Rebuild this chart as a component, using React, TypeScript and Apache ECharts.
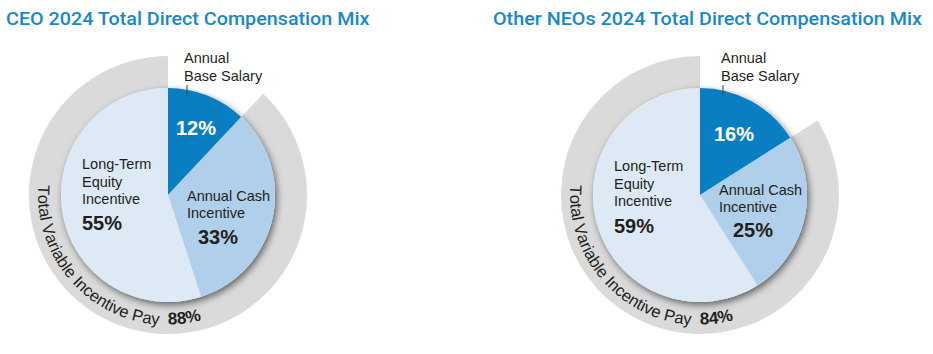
import React, { useEffect, useRef } from "react";
import * as echarts from "echarts";

// ---- data ----
const chartTitles = [
  "CEO 2024 Total Direct Compensation Mix",
  "Other NEOs 2024 Total Direct Compensation Mix",
];
const components = ["Annual\nBase Salary", "Annual Cash\nIncentive", "Long-Term\nEquity\nIncentive"];
const ceoMix = [12, 33, 55];
const neoMix = [16, 25, 59];
const variableLabel = "Total Variable Incentive Pay";
const variablePay = [88, 84];

// ---- styles / layout ----
const COLORS = ["#0a7ec2", "#afcfea", "#dde9f5"];
const RING = "#dadada";
const TITLE = "#1a87c9";
const INK = "#231f20";
const BASE_FONT = "'Liberation Sans', Arial, sans-serif";
const R_PIE = 107;
const R_RING = 139;

const layouts = [
  {
    center: [168, 195],
    titleX: 6,
    titleW: 364,
    base: [184, 58],
    leaderX: 187,
    basePct: [176, 128],
    lti: [82, 164],
    ltiPct: [82, 223],
    aci: [187, 196],
    aciPct: [198, 237],
  },
  {
    center: [700, 195],
    titleX: 493,
    titleW: 430,
    base: [721, 58],
    leaderX: 723,
    basePct: [714, 134],
    lti: [614, 166],
    ltiPct: [614, 226],
    aci: [719, 190],
    aciPct: [733, 230],
  },
];

const measureCtx = (): CanvasRenderingContext2D | null => {
  const c = document.createElement("canvas");
  return c.getContext("2d");
};

function textW(ctx: CanvasRenderingContext2D | null, font: string, s: string) {
  if (!ctx) return s.length * 7;
  ctx.font = font;
  return ctx.measureText(s).width;
}

function lines(x: number, y: number, text: string, font: string, lh: number, fill: string) {
  return text.split("\n").map((t, i) => ({
    type: "text",
    x,
    y: y + i * lh,
    silent: true,
    style: { text: t, font, fill, align: "left", verticalAlign: "middle", textAlign: "left", textVerticalAlign: "middle" },
  }));
}

// characters laid along a circle, tops toward the centre, reading from startDeg downward in angle
function arcText(
  ctx: CanvasRenderingContext2D | null,
  text: string,
  font: string,
  cx: number,
  cy: number,
  rPos: number,
  rSpace: number,
  startDeg: number,
  fill: string
) {
  const chars = Array.from(text);
  const ws = chars.map((ch) => textW(ctx, font, ch));
  const els: any[] = [];
  let acc = 0;
  const start = (startDeg * Math.PI) / 180;
  chars.forEach((ch, i) => {
    const s = acc + ws[i] / 2;
    acc += ws[i];
    if (ch === " ") return;
    const th = start - s / rSpace;
    els.push({
      type: "text",
      x: cx + rPos * Math.cos(th),
      y: cy + rPos * Math.sin(th),
      rotation: Math.PI / 2 - th,
      silent: true,
      style: { text: ch, font, fill, align: "center", verticalAlign: "middle", textAlign: "center", textVerticalAlign: "middle" },
    });
  });
  return els;
}

export default function App() {
  const ref = useRef<HTMLDivElement>(null);
  useEffect(() => {
    if (!ref.current) return;
    const chart = echarts.init(ref.current, null, { renderer: "svg" });
    const ctx = measureCtx();
    const mixes = [ceoMix, neoMix];
    const series: any[] = [];
    const graphic: any[] = [];
    const titleFont = `500 19px Roboto, sans-serif`;
    const labelFont = `14.5px ${BASE_FONT}`;
    const pctFont = `bold 20px ${BASE_FONT}`;

    layouts.forEach((L, idx) => {
      const mix = mixes[idx];
      const [cx, cy] = L.center;
      // outer ring: variable pay share
      series.push({
        type: "pie",
        silent: true,
        z: 1,
        center: L.center,
        radius: [R_PIE - 2, R_RING],
        startAngle: 90,
        clockwise: true,
        label: { show: false },
        labelLine: { show: false },
        itemStyle: { borderWidth: 0 },
        data: [
          { value: mix[0], itemStyle: { color: "rgba(0,0,0,0)" } },
          { value: variablePay[idx], itemStyle: { color: RING } },
        ],
      });
      // shadow disc
      series.push({
        type: "pie",
        silent: true,
        z: 2,
        center: L.center,
        radius: [0, R_PIE],
        label: { show: false },
        labelLine: { show: false },
        itemStyle: {
          color: COLORS[2],
          shadowBlur: 7,
          shadowOffsetX: 2,
          shadowOffsetY: 3,
          shadowColor: "rgba(0,0,0,0.55)",
        },
        data: [{ value: 1 }],
      });
      // main pie
      series.push({
        type: "pie",
        silent: true,
        z: 3,
        center: L.center,
        radius: [0, R_PIE],
        startAngle: 90,
        clockwise: true,
        label: { show: false },
        labelLine: { show: false },
        itemStyle: { borderWidth: 0 },
        data: mix.map((v, i) => ({ value: v, name: components[i], itemStyle: { color: COLORS[i] } })),
      });

      // title fitted to width
      const tw = textW(ctx, "500 19px Roboto", chartTitles[idx]);
      graphic.push({
        type: "text",
        x: L.titleX,
        y: 19,
        scaleX: L.titleW / tw,
        silent: true,
        style: { text: chartTitles[idx], font: titleFont, fill: TITLE, align: "left", verticalAlign: "middle", textAlign: "left", textVerticalAlign: "middle" },
      });

      graphic.push(...lines(L.base[0], L.base[1], components[0], labelFont, 18, INK));
      graphic.push({
        type: "line",
        silent: true,
        shape: { x1: L.leaderX, y1: 85, x2: L.leaderX, y2: 97 },
        style: { stroke: "#444", lineWidth: 1 },
        z: 10,
      });
      graphic.push(...lines(L.basePct[0], L.basePct[1], `${mix[0]}%`, pctFont, 20, "#ffffff"));
      graphic.push(...lines(L.aci[0], L.aci[1], components[1], labelFont, 17, INK));
      graphic.push(...lines(L.aciPct[0], L.aciPct[1], `${mix[1]}%`, pctFont, 20, INK));
      graphic.push(...lines(L.lti[0], L.lti[1], components[2], labelFont, 17.5, INK));
      graphic.push(...lines(L.ltiPct[0], L.ltiPct[1], `${mix[2]}%`, pctFont, 20, INK));

      graphic.push(...arcText(ctx, variableLabel, `16.5px ${BASE_FONT}`, cx, cy, 124, 130, 184.5, INK));
      graphic.push(...arcText(ctx, `${variablePay[idx]}%`, `bold 17px ${BASE_FONT}`, cx, cy, 124, 130, 90, INK));
    });

    chart.setOption({
      animation: false,
      backgroundColor: "#ffffff",
      series,
      graphic: graphic.map((g) => ({ z: 100, ...g })),
    });
    return () => chart.dispose();
  }, []);
  return <div ref={ref} style={{ position: "absolute", left: 0, top: 0, width: 933, height: 354 }} />;
}
